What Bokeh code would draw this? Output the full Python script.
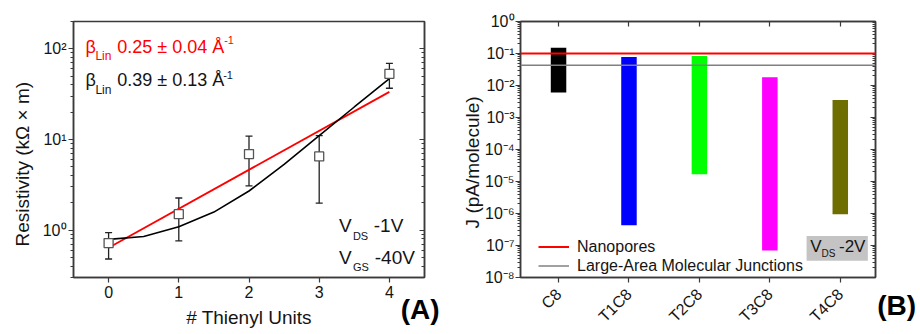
import math
from bokeh.plotting import figure
from bokeh.layouts import row
from bokeh.models import (Range1d, LinearAxis, LogAxis, FixedTicker, Label, Whisker,
                          ColumnDataSource, BoxAnnotation, TeeHead, Legend, LegendItem, Span)
from bokeh.embed import file_html
from bokeh.resources import INLINE

FONT = "Liberation Sans"
FRAME = "#3a3a3a"
TXT = "#141414"
DESC = 0.212  # font descent (em) used to turn a baseline into a box bottom
SUP = str.maketrans("-0123456789", "⁻⁰¹²³⁴⁵⁶⁷⁸⁹")

# ---------------- Panel A data ----------------
thienyl_units = [0, 1, 2, 3, 4]
resistivity = [0.72, 1.5, 6.9, 6.5, 53.0]
resistivity_upper = [0.94, 2.26, 10.9, 11.0, 69.0]
resistivity_lower = [0.48, 0.76, 3.07, 1.98, 36.7]
lin_fit_x = [0, 4]
lin_fit_y = [0.64, 33.5]
curve_fit_x = [0, 0.5, 1, 1.5, 2, 2.5, 3, 3.5, 4]
curve_fit_y = [0.79, 0.85, 1.09, 1.58, 2.7, 5.3, 11.0, 22.8, 47.0]
a_x_ticks = [0, 1, 2, 3, 4]
a_y_exponents = [0, 1, 2]

# ---------------- Panel B data ----------------
molecules = ["C8", "T1C8", "T2C8", "T3C8", "T4C8"]
j_top = [0.15, 0.078, 0.083, 0.018, 0.0035]
j_bottom = [0.006, 4.3e-7, 1.7e-5, 7.0e-8, 9.5e-7]
bar_colors = ["#000000", "#0000ff", "#00ff00", "#ff00ff", "#6e6e00"]
nanopores_j = 0.1
large_area_j = 0.043
b_y_exponents = [-8, -7, -6, -5, -4, -3, -2, -1, 0]


class Frame:
    """Page-pixel geometry of a plot frame and its data ranges."""

    def __init__(self, fl, fr, ft, fb, xr, yr):
        self.fl, self.fr, self.ft, self.fb = fl, fr, ft, fb
        self.xr, self.yr = xr, yr
        self.ly0, self.ly1 = math.log10(yr[0]), math.log10(yr[1])

    def to_data(self, px, py):
        x = self.xr[0] + (px - self.fl) / (self.fr - self.fl) * (self.xr[1] - self.xr[0])
        y = 10 ** (self.ly0 + (self.fb - py) / (self.fb - self.ft) * (self.ly1 - self.ly0))
        return x, y


def add_text(p, fr, px, py, text, size, color=TXT, align="left", baseline="alphabetic",
             style="normal", angle=0.0, place="center"):
    """px, py: page position; for 'alphabetic' py (or px when rotated) is the baseline.
    Texts outside the frame are put in a side panel so they are not clipped."""
    if baseline == "alphabetic":
        if angle:
            px = px + DESC * size
        else:
            py = py + DESC * size
        baseline = "bottom"
    x, y = fr.to_data(px, py)
    lab = Label(x=x, y=y, text=text, text_font=FONT, text_font_size=f"{size}px",
                text_color=color, text_align=align, text_baseline=baseline,
                text_font_style=style, angle=angle)
    if place == "center":
        p.add_layout(lab)
    else:
        p.add_layout(lab, place)


def minor_log(exps, lo, hi):
    out = []
    for e in range(min(exps) - 1, max(exps) + 1):
        for k in range(2, 10):
            v = k * 10 ** e
            if lo <= v <= hi:
                out.append(v)
    return out


def style_axis(ax, tick_out=5, tick_in=0, minor_out=3, minor_in=0):
    ax.axis_line_color = FRAME
    ax.axis_line_width = 1.5
    ax.major_tick_line_color = FRAME
    ax.major_tick_line_width = 1.2
    ax.minor_tick_line_color = FRAME
    ax.minor_tick_line_width = 1.0
    ax.major_tick_out = tick_out
    ax.major_tick_in = tick_in
    ax.minor_tick_out = minor_out
    ax.minor_tick_in = minor_in


def label_axis(ax, size):
    ax.major_label_text_font = FONT
    ax.major_label_text_font_size = f"{size}px"
    ax.major_label_text_color = TXT


def hide_labels(ax):
    ax.major_label_text_font_size = "1px"
    ax.major_label_text_alpha = 0
    ax.major_label_standoff = 0


# ================= Panel A =================
FA = Frame(71, 424, 19, 279, (-0.5, 4.5), (0.3, 200.0))

pA = figure(width=460, height=334, x_range=Range1d(*FA.xr), y_range=Range1d(*FA.yr),
            y_axis_type="log", output_backend="svg", toolbar_location=None,
            min_border_left=FA.fl, min_border_right=460 - FA.fr, min_border_top=FA.ft,
            min_border_bottom=334 - FA.fb)
pA.grid.visible = False
pA.outline_line_color = FRAME
pA.outline_line_width = 1.5

a_major = [10 ** e for e in a_y_exponents]
a_minor = minor_log(a_y_exponents, *FA.yr)

xa = pA.xaxis[0]
xa.ticker = FixedTicker(ticks=a_x_ticks)
label_axis(xa, 16)
xa.major_label_standoff = 3
xa.axis_label = "# Thienyl Units"
xa.axis_label_text_font = FONT
xa.axis_label_text_font_size = "19px"
xa.axis_label_text_font_style = "normal"
xa.axis_label_text_color = TXT
xa.axis_label_standoff = 6
style_axis(xa, 5, 0, 0, 0)

ya = pA.yaxis[0]
ya.ticker = FixedTicker(ticks=a_major, minor_ticks=a_minor)
ya.major_label_overrides = {10 ** e: "10" + str(e).translate(SUP) for e in a_y_exponents}
label_axis(ya, 16)
ya.major_label_standoff = 2
style_axis(ya, 5, 0, 3, 0)

ra = LogAxis(ticker=FixedTicker(ticks=a_major, minor_ticks=a_minor))
hide_labels(ra)
style_axis(ra, 0, 5, 0, 3)
pA.add_layout(ra, "right")

# fits
pA.line(lin_fit_x, lin_fit_y, line_color="#ff0000", line_width=1.8)
pA.line(curve_fit_x, curve_fit_y, line_color="#000000", line_width=1.6)

src_a = ColumnDataSource(dict(x=thienyl_units, y=resistivity,
                              upper=resistivity_upper, lower=resistivity_lower))
pA.add_layout(Whisker(source=src_a, base="x", upper="upper", lower="lower",
                      dimension="height", line_color="#222222", line_width=1.3,
                      upper_head=TeeHead(size=7, line_color="#222222", line_width=1.3),
                      lower_head=TeeHead(size=7, line_color="#222222", line_width=1.3)))
pA.scatter("x", "y", source=src_a, marker="square", size=9, fill_color="white",
           line_color="#555555", line_width=1.3)

# annotations inside the frame
RED = "#ff0000"
add_text(pA, FA, 83, 51.7, "β", 18, RED)
add_text(pA, FA, 93, 59, "Lin", 12, RED)
add_text(pA, FA, 115, 51.7, "0.25 ± 0.04 Å", 18, RED)
add_text(pA, FA, 222.5, 40, "-1", 11, RED)

add_text(pA, FA, 83, 85, "β", 18)
add_text(pA, FA, 93, 93, "Lin", 12)
add_text(pA, FA, 115, 85, "0.39 ± 0.13 Å", 18)
add_text(pA, FA, 221.5, 75, "-1", 11)

add_text(pA, FA, 338, 233.3, "V", 19)
add_text(pA, FA, 352, 240.7, "DS", 11)
add_text(pA, FA, 373, 233.3, "-1V", 19)
add_text(pA, FA, 338, 265, "V", 19)
add_text(pA, FA, 352, 272.3, "GS", 11)
add_text(pA, FA, 374, 265, "-40V", 19)

# texts outside the frame (side panels, drawn at their page positions)
add_text(pA, FA, 26.5, 164, "Resistivity (kΩ × m)", 19, align="center",
         angle=math.pi / 2, place="right")
add_text(pA, FA, 400, 321.7, "(A)", 28, color="#000000", style="bold", place="left")

# ================= Panel B =================
FB = Frame(518, 875, 21, 279, (-0.54, 4.5), (1e-8, 1.0))

pB = figure(width=460, height=334, x_range=Range1d(*FB.xr), y_range=Range1d(*FB.yr),
            y_axis_type="log", output_backend="svg", toolbar_location=None,
            min_border_left=FB.fl - 460, min_border_right=920 - FB.fr, min_border_top=FB.ft,
            min_border_bottom=334 - FB.fb)
pB.grid.visible = False
pB.outline_line_color = FRAME
pB.outline_line_width = 1.5

b_idx = list(range(len(molecules)))
b_major = [10 ** e for e in b_y_exponents]
b_minor = minor_log(b_y_exponents, *FB.yr)

xb = pB.xaxis[0]
xb.ticker = FixedTicker(ticks=b_idx)
xb.major_label_overrides = {i: m for i, m in zip(b_idx, molecules)}
xb.major_label_orientation = math.pi / 4
label_axis(xb, 16)
xb.major_label_standoff = 9
style_axis(xb, 5, 0, 0, 0)

tb = LinearAxis(ticker=FixedTicker(ticks=b_idx))
hide_labels(tb)
style_axis(tb, 0, 5, 0, 0)
pB.add_layout(tb, "above")

yb = pB.yaxis[0]
yb.ticker = FixedTicker(ticks=b_major, minor_ticks=b_minor)
yb.major_label_overrides = {10 ** e: "10" + str(e).translate(SUP) for e in b_y_exponents}
label_axis(yb, 16)
yb.major_label_standoff = 1
style_axis(yb, 5, 0, 3, 0)

rb = LogAxis(ticker=FixedTicker(ticks=b_major, minor_ticks=b_minor))
hide_labels(rb)
style_axis(rb, 0, 5, 0, 3)
pB.add_layout(rb, "right")

src_b = ColumnDataSource(dict(x=b_idx, top=j_top, bottom=j_bottom, color=bar_colors))
pB.vbar(x="x", top="top", bottom="bottom", width=0.22, fill_color="color",
        line_color=None, source=src_b)

pB.add_layout(Span(location=nanopores_j, dimension="width", line_color="#ff0000",
                   line_width=2))
pB.add_layout(Span(location=large_area_j, dimension="width", line_color="#808080",
                   line_width=1.5))
leg_src1 = ColumnDataSource(dict(x=[0], y=[nanopores_j]))
leg_src2 = ColumnDataSource(dict(x=[0], y=[large_area_j]))
leg_r1 = pB.line("x", "y", source=leg_src1, line_color="#ff0000", line_width=2)
leg_r2 = pB.line("x", "y", source=leg_src2, line_color="#808080", line_width=1.5)
legend = Legend(items=[LegendItem(label="Nanopores", renderers=[leg_r1]),
                       LegendItem(label="Large-Area Molecular Junctions", renderers=[leg_r2])],
                location=(18, 2), padding=0, margin=0, spacing=0,
                glyph_width=31, glyph_height=19, label_height=19, label_standoff=8,
                label_text_font=FONT, label_text_font_size="16px", label_text_color=TXT,
                border_line_color=None, background_fill_alpha=0)
pB.add_layout(legend)

bx0, by0 = FB.to_data(805.7, 262)
bx1, by1 = FB.to_data(867.3, 237.3)
pB.add_layout(BoxAnnotation(left=bx0, right=bx1, bottom=by0, top=by1,
                            fill_color="#c4c4c4", fill_alpha=1.0, line_color=None))
add_text(pB, FB, 809.3, 253.3, "V", 17)
add_text(pB, FB, 820.6, 258.3, "DS", 10)
add_text(pB, FB, 838.3, 253.3, "-2V", 17)

add_text(pB, FB, 476, 163, "J (pA/molecule)", 19, align="center", angle=math.pi / 2,
         place="left")
add_text(pB, FB, 876.7, 316.7, "(B)", 28, color="#000000", style="bold", place="right")

layout = row(pA, pB)
open("out.html", "w").write(file_html(layout, INLINE))
